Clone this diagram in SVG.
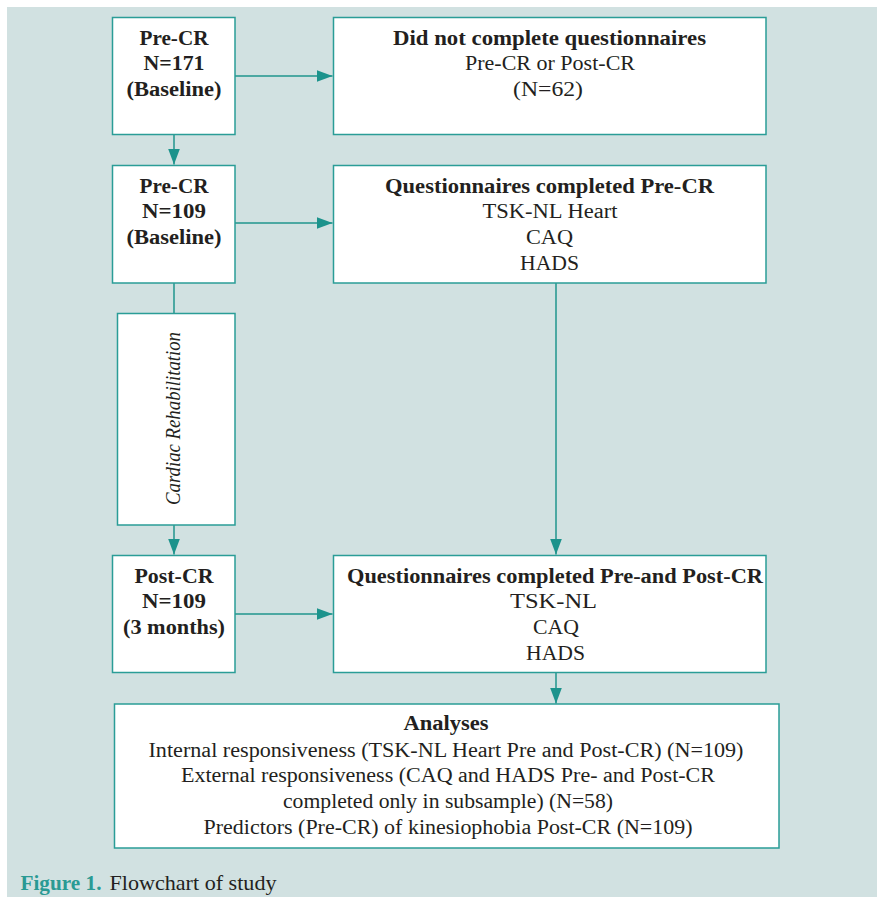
<svg xmlns="http://www.w3.org/2000/svg" width="877" height="897" viewBox="0 0 877 897">
  <defs>
    <style>
      .box { fill: #ffffff; stroke: #2a9d97; stroke-width: 1.5; }
      .link { fill: none; stroke: #1f948d; stroke-width: 1.5; }
      text { font-family: "Liberation Serif", "Times New Roman", serif; font-size: 20px; fill: #231f20; text-anchor: middle; }
      .b { font-weight: bold; }
      .cap { text-anchor: start; font-size: 21px; }
      .teal { fill: #2a9a94; }
    </style>
    <marker id="arrow" viewBox="0 0 16 12" refX="16" refY="6" markerWidth="16" markerHeight="12" markerUnits="userSpaceOnUse" orient="auto">
      <path d="M0,0 L16,6 L0,12 Z" fill="#1c938c"/>
    </marker>
  </defs>

  <!-- page background -->
  <rect x="0" y="0" width="877" height="897" fill="#ffffff"/>
  <rect x="7" y="7" width="870" height="890" fill="#d1e1e1"/>

  <!-- connectors -->
  <g id="connectors">
    <line class="link" x1="235" y1="76" x2="332.5" y2="76" marker-end="url(#arrow)"/>
    <line class="link" x1="174" y1="134" x2="174" y2="164.5" marker-end="url(#arrow)"/>
    <line class="link" x1="235" y1="223" x2="332.5" y2="223" marker-end="url(#arrow)"/>
    <line class="link" x1="174" y1="283" x2="174" y2="313"/>
    <line class="link" x1="174" y1="525" x2="174" y2="554.5" marker-end="url(#arrow)"/>
    <line class="link" x1="235" y1="614" x2="332.5" y2="614" marker-end="url(#arrow)"/>
    <line class="link" x1="556" y1="283" x2="556" y2="554.5" marker-end="url(#arrow)"/>
    <line class="link" x1="556" y1="673" x2="556" y2="703.5" marker-end="url(#arrow)"/>
  </g>

  <g id="pre-cr-171">
    <rect class="box" x="112.5" y="17.5" width="122.5" height="117"/>
    <text class="b" x="174" y="45" textLength="69" lengthAdjust="spacingAndGlyphs">Pre-CR</text>
    <text class="b" x="174" y="70" textLength="61" lengthAdjust="spacingAndGlyphs">N=171</text>
    <text class="b" x="174" y="96" textLength="95" lengthAdjust="spacingAndGlyphs">(Baseline)</text>
  </g>

  <g id="not-completed">
    <rect class="box" x="333.5" y="17.5" width="432.5" height="117"/>
    <text class="b" x="549.5" y="45" textLength="313" lengthAdjust="spacingAndGlyphs">Did not complete questionnaires</text>
    <text x="550" y="70" textLength="170" lengthAdjust="spacingAndGlyphs">Pre-CR or Post-CR</text>
    <text x="548" y="96" textLength="70" lengthAdjust="spacingAndGlyphs">(N=62)</text>
  </g>

  <g id="pre-cr-109">
    <rect class="box" x="112.5" y="165.5" width="122.5" height="117.5"/>
    <text class="b" x="174" y="193" textLength="69" lengthAdjust="spacingAndGlyphs">Pre-CR</text>
    <text class="b" x="174" y="218" textLength="64" lengthAdjust="spacingAndGlyphs">N=109</text>
    <text class="b" x="174" y="244" textLength="95" lengthAdjust="spacingAndGlyphs">(Baseline)</text>
  </g>

  <g id="completed-pre">
    <rect class="box" x="333.5" y="165.5" width="432.5" height="117.5"/>
    <text class="b" x="549.5" y="193" textLength="329" lengthAdjust="spacingAndGlyphs">Questionnaires completed Pre-CR</text>
    <text x="550" y="218" textLength="135" lengthAdjust="spacingAndGlyphs">TSK-NL Heart</text>
    <text x="549.5" y="244" textLength="47" lengthAdjust="spacingAndGlyphs">CAQ</text>
    <text x="549.5" y="270" textLength="59" lengthAdjust="spacingAndGlyphs">HADS</text>
  </g>

  <g id="cardiac-rehabilitation">
    <rect class="box" x="117.5" y="313.5" width="117.5" height="211.5"/>
    <text x="0" y="0" font-style="italic" font-size="22" textLength="173" lengthAdjust="spacingAndGlyphs" transform="translate(180,418.5) rotate(-90)">Cardiac Rehabilitation</text>
  </g>

  <g id="post-cr-109">
    <rect class="box" x="112.5" y="555.5" width="122.5" height="117"/>
    <text class="b" x="174" y="583" textLength="79" lengthAdjust="spacingAndGlyphs">Post-CR</text>
    <text class="b" x="174" y="608" textLength="64" lengthAdjust="spacingAndGlyphs">N=109</text>
    <text class="b" x="174" y="634" textLength="102" lengthAdjust="spacingAndGlyphs">(3 months)</text>
  </g>

  <g id="completed-pre-post">
    <rect class="box" x="333.5" y="555.5" width="432.5" height="117"/>
    <text class="b" x="555" y="583" textLength="416" lengthAdjust="spacingAndGlyphs">Questionnaires completed Pre-and Post-CR</text>
    <text x="553.5" y="608" textLength="87" lengthAdjust="spacingAndGlyphs">TSK-NL</text>
    <text x="556" y="634" textLength="46" lengthAdjust="spacingAndGlyphs">CAQ</text>
    <text x="555.5" y="660" textLength="59" lengthAdjust="spacingAndGlyphs">HADS</text>
  </g>

  <g id="analyses">
    <rect class="box" x="114.5" y="704" width="664.5" height="144"/>
    <text class="b" x="446" y="730" textLength="85" lengthAdjust="spacingAndGlyphs">Analyses</text>
    <text x="446" y="757" textLength="595" lengthAdjust="spacingAndGlyphs">Internal responsiveness (TSK-NL Heart Pre and Post-CR) (N=109)</text>
    <text x="448" y="782" textLength="534" lengthAdjust="spacingAndGlyphs">External responsiveness (CAQ and HADS Pre- and Post-CR</text>
    <text x="448" y="808" textLength="330" lengthAdjust="spacingAndGlyphs">completed only in subsample) (N=58)</text>
    <text x="448" y="834" textLength="489" lengthAdjust="spacingAndGlyphs">Predictors (Pre-CR) of kinesiophobia Post-CR (N=109)</text>
  </g>

  <!-- caption -->
  <text class="cap b teal" x="20.5" y="890" textLength="81" lengthAdjust="spacingAndGlyphs">Figure 1.</text>
  <text class="cap" x="109.5" y="890" textLength="167" lengthAdjust="spacingAndGlyphs">Flowchart of study</text>
</svg>
